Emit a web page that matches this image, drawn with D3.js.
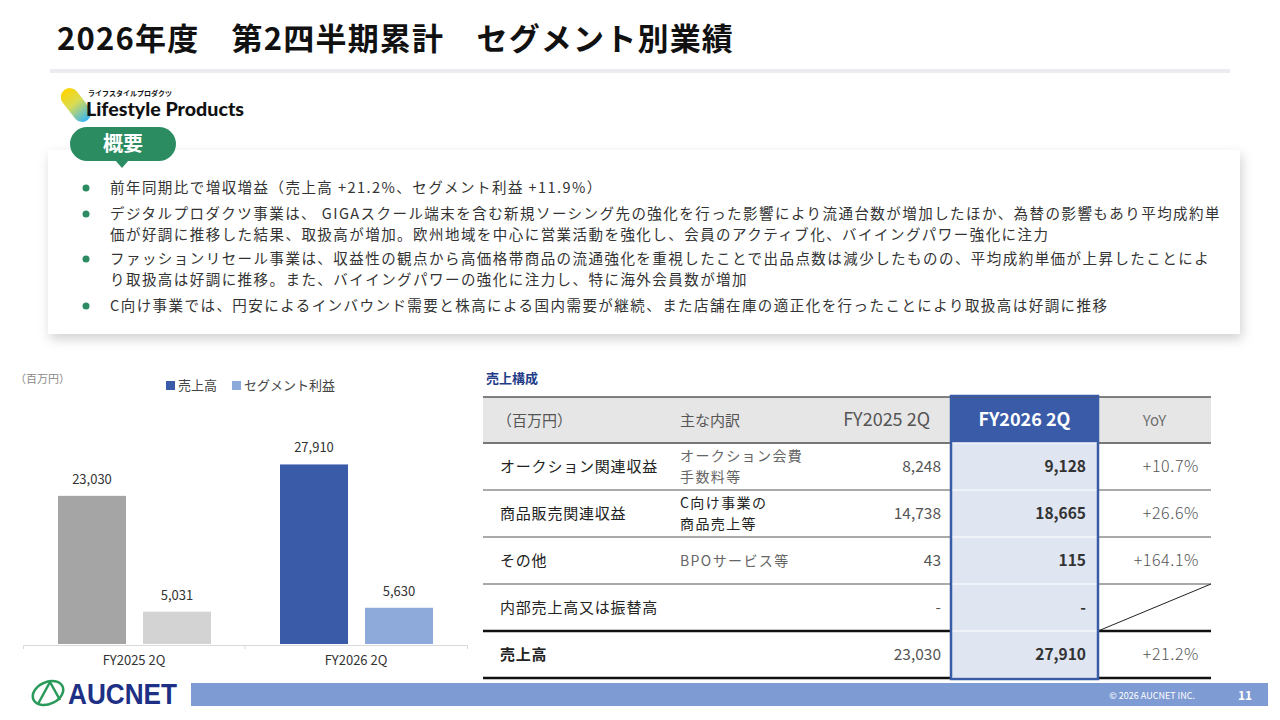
<!DOCTYPE html>
<html>
<head>
<meta charset="utf-8">
<script src="https://cdn.jsdelivr.net/npm/d3@7"></script>
<style>
body { margin: 0; background: #fff; }
svg { display: block; font-family: "Noto Sans CJK JP", "Noto Sans", sans-serif; }
</style>
</head>
<body>
<div id="slide"></div>
<script>
"use strict"

// ---- data ----
var title = "2026年度　第2四半期累計　セグメント別業績";

var summary = [
	["前年同期比で増収増益（売上高 +21.2%、セグメント利益 +11.9%）"],
	["デジタルプロダクツ事業は、 GIGAスクール端末を含む新規ソーシング先の強化を行った影響により流通台数が増加したほか、為替の影響もあり平均成約単",
	 "価が好調に推移した結果、取扱高が増加。欧州地域を中心に営業活動を強化し、会員のアクティブ化、バイイングパワー強化に注力"],
	["ファッションリセール事業は、収益性の観点から高価格帯商品の流通強化を重視したことで出品点数は減少したものの、平均成約単価が上昇したことによ",
	 "り取扱高は好調に推移。また、バイイングパワーの強化に注力し、特に海外会員数が増加"],
	["C向け事業では、円安によるインバウンド需要と株高による国内需要が継続、また店舗在庫の適正化を行ったことにより取扱高は好調に推移"]
];

var periods = ["FY2025 2Q", "FY2026 2Q"];
var seriesNames = ["売上高", "セグメント利益"];
var sales = [23030, 27910];
var profit = [5031, 5630];

var tableHeader = ["（百万円）", "主な内訳", "FY2025 2Q", "FY2026 2Q", "YoY"];
var rowLabels = ["オークション関連収益", "商品販売関連収益", "その他", "内部売上高又は振替高", "売上高"];
var rowDetails = [["オークション会費", "手数料等"], ["C向け事業の", "商品売上等"], ["BPOサービス等"], [], []];
var prevValues = [8248, 14738, 43, null, 23030];
var currValues = [9128, 18665, 115, null, 27910];
var yoyValues = ["+10.7%", "+26.6%", "+164.1%", null, "+21.2%"];

// ---- page ----
var green = "#2b8c62",
	blue = "#3a5ca8",
	lightBlue = "#8eaadb";

var svg = d3.select("#slide").append("svg")
	.attr("width", 1280)
	.attr("height", 720);

var defs = svg.append("defs");
var shadow = defs.append("filter").attr("id", "shadow")
	.attr("x", "-5%").attr("y", "-20%").attr("width", "110%").attr("height", "150%");
shadow.append("feDropShadow")
	.attr("dx", 2).attr("dy", 5).attr("stdDeviation", 6)
	.attr("flood-color", "#000").attr("flood-opacity", 0.18);

var grad = defs.append("linearGradient").attr("id", "pill")
	.attr("x1", 0).attr("y1", 0).attr("x2", 0).attr("y2", 1);
grad.append("stop").attr("offset", "0%").attr("stop-color", "#ffd400");
grad.append("stop").attr("offset", "45%").attr("stop-color", "#d8dc55");
grad.append("stop").attr("offset", "100%").attr("stop-color", "#35b4f2");

// title
svg.append("text")
	.attr("x", 57).attr("y", 50)
	.attr("font-size", 31).attr("font-weight", 700).attr("fill", "#111")
	.attr("letter-spacing", 1.2)
	.text(title);
svg.append("rect")
	.attr("x", 50).attr("y", 69).attr("width", 1180).attr("height", 4)
	.attr("fill", "#ececf0");

// lifestyle products logo
svg.append("rect")
	.attr("x", -9).attr("y", -19).attr("width", 18).attr("height", 38).attr("rx", 9)
	.attr("transform", "translate(76,105) rotate(-38)")
	.attr("fill", "url(#pill)");
svg.append("text")
	.attr("x", 88).attr("y", 96)
	.attr("font-size", 7).attr("font-weight", 700).attr("fill", "#111")
	.text("ライフスタイルプロダクツ");
svg.append("text")
	.attr("x", 86).attr("y", 116)
	.attr("font-family", "Lato, 'Noto Sans', sans-serif")
	.attr("font-size", 19).attr("font-weight", 900).attr("fill", "#111")
	.attr("textLength", 158).attr("lengthAdjust", "spacingAndGlyphs")
	.text("Lifestyle Products");

// summary box
svg.append("rect")
	.attr("x", 48).attr("y", 150).attr("width", 1192).attr("height", 184)
	.attr("fill", "#fff").attr("filter", "url(#shadow)");

svg.append("rect")
	.attr("x", 70).attr("y", 127).attr("width", 106).attr("height", 34).attr("rx", 17)
	.attr("fill", green);
svg.append("path")
	.attr("d", "M115,160 L129,160 L122,168 Z")
	.attr("fill", green);
svg.append("text")
	.attr("x", 123).attr("y", 151).attr("text-anchor", "middle")
	.attr("font-size", 20).attr("font-weight", 700).attr("fill", "#fff")
	.text("概要");

// one text element per bullet, wrapped lines as tspans
var bulletTop = [193, 219, 264, 311],
	lineGap = 21;
var bullets = svg.append("g").selectAll("g").data(summary).join("g")
	.attr("transform", function(d, i) { return "translate(0," + bulletTop[i] + ")"; });
bullets.append("circle")
	.attr("cx", 86).attr("cy", -5).attr("r", 3.5)
	.attr("fill", green);
bullets.append("text")
	.attr("font-size", 14.5).attr("fill", "#333")
	.attr("letter-spacing", 1.45)
	.selectAll("tspan").data(function(d) { return d; }).join("tspan")
	.attr("x", 110)
	.attr("y", function(d, i) { return i * lineGap; })
	.text(function(d) { return d; });

// ---- bar chart ----
var chart = svg.append("g");

chart.append("text")
	.attr("x", 15).attr("y", 383)
	.attr("font-size", 11).attr("fill", "#888")
	.text("（百万円）");

var legendX = [166, 232];
var legend = chart.selectAll("g.legend").data(seriesNames).join("g")
	.attr("class", "legend")
	.attr("transform", function(d, i) { return "translate(" + legendX[i] + ",381)"; });
legend.append("rect")
	.attr("width", 9).attr("height", 9)
	.attr("fill", function(d, i) { return i === 0 ? blue : lightBlue; });
legend.append("text")
	.attr("x", 12).attr("y", 9)
	.attr("font-size", 13).attr("fill", "#444")
	.text(function(d) { return d; });

var x0 = d3.scaleBand().domain(periods).range([23, 467]);
var x1 = d3.scaleBand().domain(seriesNames).range([35, 188]).paddingInner(0.2);
var y = d3.scaleLinear().domain([0, 30000]).range([644, 451]);

var barColor = function(p, s) {
	if (p === 0) return s === 0 ? "#a5a5a5" : "#d3d3d3";
	return s === 0 ? blue : lightBlue;
};

var barData = [];
periods.forEach(function(p, pi) {
	barData.push({p: p, pi: pi, s: seriesNames[0], si: 0, v: sales[pi]});
	barData.push({p: p, pi: pi, s: seriesNames[1], si: 1, v: profit[pi]});
});

chart.selectAll("rect.bar").data(barData).join("rect")
	.attr("class", "bar")
	.attr("x", function(d) { return x0(d.p) + x1(d.s); })
	.attr("y", function(d) { return y(d.v); })
	.attr("width", x1.bandwidth())
	.attr("height", function(d) { return y(0) - y(d.v); })
	.attr("fill", function(d) { return barColor(d.pi, d.si); });

chart.selectAll("text.val").data(barData).join("text")
	.attr("class", "val")
	.attr("x", function(d) { return x0(d.p) + x1(d.s) + x1.bandwidth() / 2; })
	.attr("y", function(d) { return y(d.v) - 12; })
	.attr("text-anchor", "middle")
	.attr("font-size", 13).attr("fill", "#333")
	.text(function(d) { return d3.format(",")(d.v); });

var axis = chart.append("g")
	.attr("transform", "translate(0," + (y(0) + 1) + ")")
	.call(d3.axisBottom(x0).tickSize(0).tickSizeOuter(4).tickPadding(11));
axis.select(".domain").attr("stroke", "#d9d9d9");
axis.selectAll("text")
	.attr("font-family", "'Noto Sans CJK JP', sans-serif")
	.attr("font-size", 13).attr("fill", "#333");
axis.append("line")
	.attr("x1", x0(periods[1])).attr("x2", x0(periods[1]))
	.attr("y1", 0).attr("y2", 4)
	.attr("stroke", "#d9d9d9");

// ---- table ----
var table = svg.append("g");

table.append("text")
	.attr("x", 486).attr("y", 383)
	.attr("font-size", 13).attr("font-weight", 700).attr("fill", "#1f3c88")
	.text("売上構成");

var tLeft = 483, tRight = 1211,
	cLeft = 951, cRight = 1098,
	headTop = 397, headBottom = 443;

var rowY = d3.scaleBand().domain(rowLabels).range([headBottom, 678]);

table.append("rect")
	.attr("x", tLeft).attr("y", headTop)
	.attr("width", tRight - tLeft).attr("height", headBottom - headTop)
	.attr("fill", "#e6e6e6");
table.append("rect")
	.attr("x", cLeft).attr("y", headTop)
	.attr("width", cRight - cLeft).attr("height", headBottom - headTop)
	.attr("fill", blue);
table.append("rect")
	.attr("x", cLeft).attr("y", headBottom)
	.attr("width", cRight - cLeft).attr("height", 678 - headBottom)
	.attr("fill", "#dfe5f1");

table.append("line")
	.attr("x1", tLeft).attr("x2", tRight)
	.attr("y1", headTop).attr("y2", headTop)
	.attr("stroke", "#595959").attr("stroke-width", 1.5);

// horizontal rules below header and each row
var rules = [{y: headBottom, w: 2, c: "#777"}];
rowLabels.forEach(function(r, i) {
	var yy = rowY(r) + rowY.bandwidth();
	rules.push({y: yy, w: i >= 3 ? 2.5 : 1, c: i >= 3 ? "#111" : "#555"});
});
rules.forEach(function(r) {
	table.append("line")
		.attr("x1", tLeft).attr("x2", cLeft).attr("y1", r.y).attr("y2", r.y)
		.attr("stroke", r.c).attr("stroke-width", r.w);
	table.append("line")
		.attr("x1", cRight).attr("x2", tRight).attr("y1", r.y).attr("y2", r.y)
		.attr("stroke", r.c).attr("stroke-width", r.w);
	table.append("line")
		.attr("x1", cLeft).attr("x2", cRight).attr("y1", r.y).attr("y2", r.y)
		.attr("stroke", "#f4f6fa").attr("stroke-width", 1.5);
});

// empty YoY cell gets a diagonal
rowLabels.forEach(function(r, i) {
	if (yoyValues[i] !== null) return;
	table.append("line")
		.attr("x1", cRight).attr("y1", rowY(r) + rowY.bandwidth())
		.attr("x2", tRight).attr("y2", rowY(r))
		.attr("stroke", "#222").attr("stroke-width", 1);
});

// highlighted column frame
table.append("rect")
	.attr("x", cLeft).attr("y", headTop - 1)
	.attr("width", cRight - cLeft).attr("height", 678 - headTop + 2)
	.attr("fill", "none").attr("stroke", blue).attr("stroke-width", 2.5);

// header text
var headPos = [
	{x: 497, anchor: "start", size: 15, fill: "#555", weight: 400},
	{x: 680, anchor: "start", size: 15, fill: "#555", weight: 400},
	{x: 930, anchor: "end", size: 18, fill: "#555", weight: 400},
	{x: (cLeft + cRight) / 2, anchor: "middle", size: 18, fill: "#fff", weight: 700},
	{x: (cRight + tRight) / 2, anchor: "middle", size: 15, fill: "#707070", weight: 400}
];
table.selectAll("text.head").data(tableHeader).join("text")
	.attr("class", "head")
	.attr("x", function(d, i) { return headPos[i].x; })
	.attr("y", (headTop + headBottom) / 2 + 6)
	.attr("text-anchor", function(d, i) { return headPos[i].anchor; })
	.attr("font-size", function(d, i) { return headPos[i].size; })
	.attr("font-weight", function(d, i) { return headPos[i].weight; })
	.attr("fill", function(d, i) { return headPos[i].fill; })
	.text(function(d) { return d; });

var fmt = function(v) { return v === null ? "-" : d3.format(",")(v); };
var last = rowLabels.length - 1;

var rows = table.selectAll("g.row").data(rowLabels).join("g")
	.attr("class", "row")
	.attr("transform", function(d) { return "translate(0," + (rowY(d) + rowY.bandwidth() / 2) + ")"; });

rows.append("text")
	.attr("x", 500).attr("y", 5)
	.attr("font-size", 15).attr("letter-spacing", 0.8)
	.attr("font-weight", function(d, i) { return i === last ? 700 : 400; })
	.attr("fill", "#222")
	.text(function(d) { return d; });

rows.each(function(d, i) {
	var lines = rowDetails[i];
	if (!lines.length) return;
	d3.select(this).append("text")
		.attr("font-size", 14).attr("letter-spacing", 1.4)
		.attr("fill", i === 1 ? "#222" : "#666")
		.selectAll("tspan").data(lines).join("tspan")
		.attr("x", 680)
		.attr("y", function(l, k) { return 5 + (k - (lines.length - 1) / 2) * 21; })
		.text(function(l) { return l; });
});

rows.append("text")
	.attr("x", 941).attr("y", 5).attr("text-anchor", "end")
	.attr("font-size", 15.5).attr("fill", "#555")
	.text(function(d, i) { return fmt(prevValues[i]); });

rows.append("text")
	.attr("x", 1086).attr("y", 5).attr("text-anchor", "end")
	.attr("font-size", 15.5).attr("font-weight", 700).attr("fill", "#333")
	.text(function(d, i) { return fmt(currValues[i]); });

rows.append("text")
	.attr("x", 1199).attr("y", 5).attr("text-anchor", "end")
	.attr("font-size", 16).attr("font-weight", 300).attr("fill", "#555")
	.attr("letter-spacing", 0.6)
	.text(function(d, i) { return yoyValues[i] === null ? "" : yoyValues[i]; });

// ---- footer ----
svg.append("ellipse")
	.attr("cx", 48).attr("cy", 693).attr("rx", 16).attr("ry", 11)
	.attr("transform", "rotate(-25,48,693)")
	.attr("fill", "none").attr("stroke", "#2a9a5a").attr("stroke-width", 2.5);
svg.append("path")
	.attr("d", "M38,704 L50,682 L60,700")
	.attr("fill", "none").attr("stroke", "#2a9a5a").attr("stroke-width", 2.5);
svg.append("text")
	.attr("x", 68).attr("y", 704)
	.attr("font-family", "'Liberation Sans Narrow', 'Liberation Sans', sans-serif")
	.attr("font-size", 29).attr("font-weight", 700).attr("fill", "#1e2f86")
	.attr("textLength", 109).attr("lengthAdjust", "spacingAndGlyphs")
	.text("AUCNET");

svg.append("rect")
	.attr("x", 191).attr("y", 683).attr("width", 1077).attr("height", 23)
	.attr("fill", "#7f9bd3");
svg.append("text")
	.attr("x", 1195).attr("y", 699).attr("text-anchor", "end")
	.attr("font-size", 9).attr("fill", "#fff")
	.text("© 2026 AUCNET INC.");
svg.append("text")
	.attr("x", 1245).attr("y", 700).attr("text-anchor", "middle")
	.attr("font-size", 12).attr("font-weight", 700).attr("fill", "#fff")
	.text("11");
</script>
</body>
</html>
